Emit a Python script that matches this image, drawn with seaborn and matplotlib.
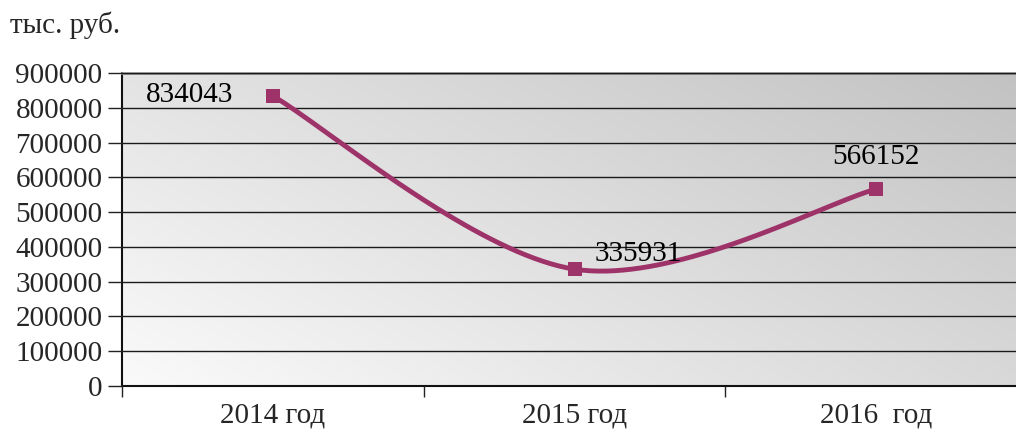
import numpy as np
import pandas as pd
import matplotlib
matplotlib.use("Agg")
import matplotlib.pyplot as plt
import seaborn as sns

# Revenue by year, thousand rubles
years = ["2014 год", "2015 год", "2016  год"]
values = [834043, 335931, 566152]

LINE_COLOR = "#9E3369"

sns.set_theme(style="white")
plt.rcParams["font.family"] = ["Liberation Serif", "DejaVu Serif"]

fig = plt.figure(figsize=(10.16, 4.34), dpi=100)
ax = fig.add_axes([122 / 1016, 48 / 434, 905 / 1016, 313 / 434])

# Diagonal grey gradient behind the plot area (light bottom-left, darker top-right)
gx, gy = np.meshgrid(np.linspace(0, 1, 200), np.linspace(0, 1, 200))
grad = (gx * 0.6 + gy * 0.4)
ax.imshow(grad, extent=[0, 1, 0, 1], transform=ax.transAxes, origin="lower",
          cmap=matplotlib.colors.LinearSegmentedColormap.from_list(
              "bg", ["#FAFAFA", "#C2C2C2"]),
          aspect="auto", zorder=0, interpolation="bilinear")

# Smoothed line: Catmull-Rom style cubic Bezier through the data points
xs = np.arange(len(values), dtype=float)
ys = np.array(values, dtype=float)
pts = np.column_stack([xs, ys])
ext = np.vstack([pts[0], pts, pts[-1]])
curve = []
t = np.linspace(0, 1, 80)[:, None]
for i in range(len(pts) - 1):
    p0, p1, p2, p3 = ext[i], ext[i + 1], ext[i + 2], ext[i + 3]
    c1 = p1 + (p2 - p0) / 6
    c2 = p2 - (p3 - p1) / 6
    seg = ((1 - t) ** 3) * p1 + 3 * ((1 - t) ** 2) * t * c1 + 3 * (1 - t) * t ** 2 * c2 + t ** 3 * p2
    curve.append(seg)
curve = np.vstack(curve)
smooth = pd.DataFrame({"x": curve[:, 0], "y": curve[:, 1]})
sns.lineplot(data=smooth, x="x", y="y", ax=ax, color=LINE_COLOR, linewidth=3.5,
             sort=False, zorder=3)

df = pd.DataFrame({"x": xs, "y": ys})
sns.scatterplot(data=df, x="x", y="y", ax=ax, marker="s", s=110, color=LINE_COLOR,
                edgecolor=LINE_COLOR, linewidth=0, zorder=4)

# Value labels
offsets = [(-60, 1), (46, 11), (0, 23)]
for xi, v, off in zip(xs, values, offsets):
    ax.annotate(f"{v}", (xi, v), xytext=off, textcoords="offset points",
                ha="center", va="center", fontsize=21, color="black", zorder=5)

ax.set_xlim(-0.5, 2.5)
ax.set_ylim(0, 900000)
ax.set_yticks(np.arange(0, 900001, 100000))
ax.set_yticklabels([str(v) for v in range(0, 900001, 100000)], fontsize=21)
ax.yaxis.grid(True, color="#1A1A1A", linewidth=1.0)
ax.set_axisbelow(False)
for line in ax.get_ygridlines():
    line.set_zorder(1)

# Category boundaries as major ticks, labels on minor ticks at centers
ax.set_xticks([-0.5, 0.5, 1.5])
ax.set_xticklabels(["", "", ""])
ax.set_xticks(xs, minor=True)
ax.set_xticklabels(years, minor=True, fontsize=21)
ax.tick_params(axis="x", which="major", direction="out", length=8, width=1, color="#222222", bottom=True)
ax.tick_params(axis="x", which="minor", length=0, pad=12)
ax.tick_params(axis="y", direction="out", length=10, width=1, color="#222222", left=True, pad=4)

ax.set_xlabel("")
ax.set_ylabel("")

for side in ["left", "bottom"]:
    ax.spines[side].set_color("#111111")
    ax.spines[side].set_linewidth(1.5)
ax.spines["top"].set_color("#8C8C8C")
ax.spines["top"].set_linewidth(2)
ax.spines["right"].set_color("#8C8C8C")

fig.text(10 / 1016, 1 - 25 / 434, "тыс. руб.", fontsize=21, ha="left", va="center")

fig.savefig("out.png", dpi=100)
